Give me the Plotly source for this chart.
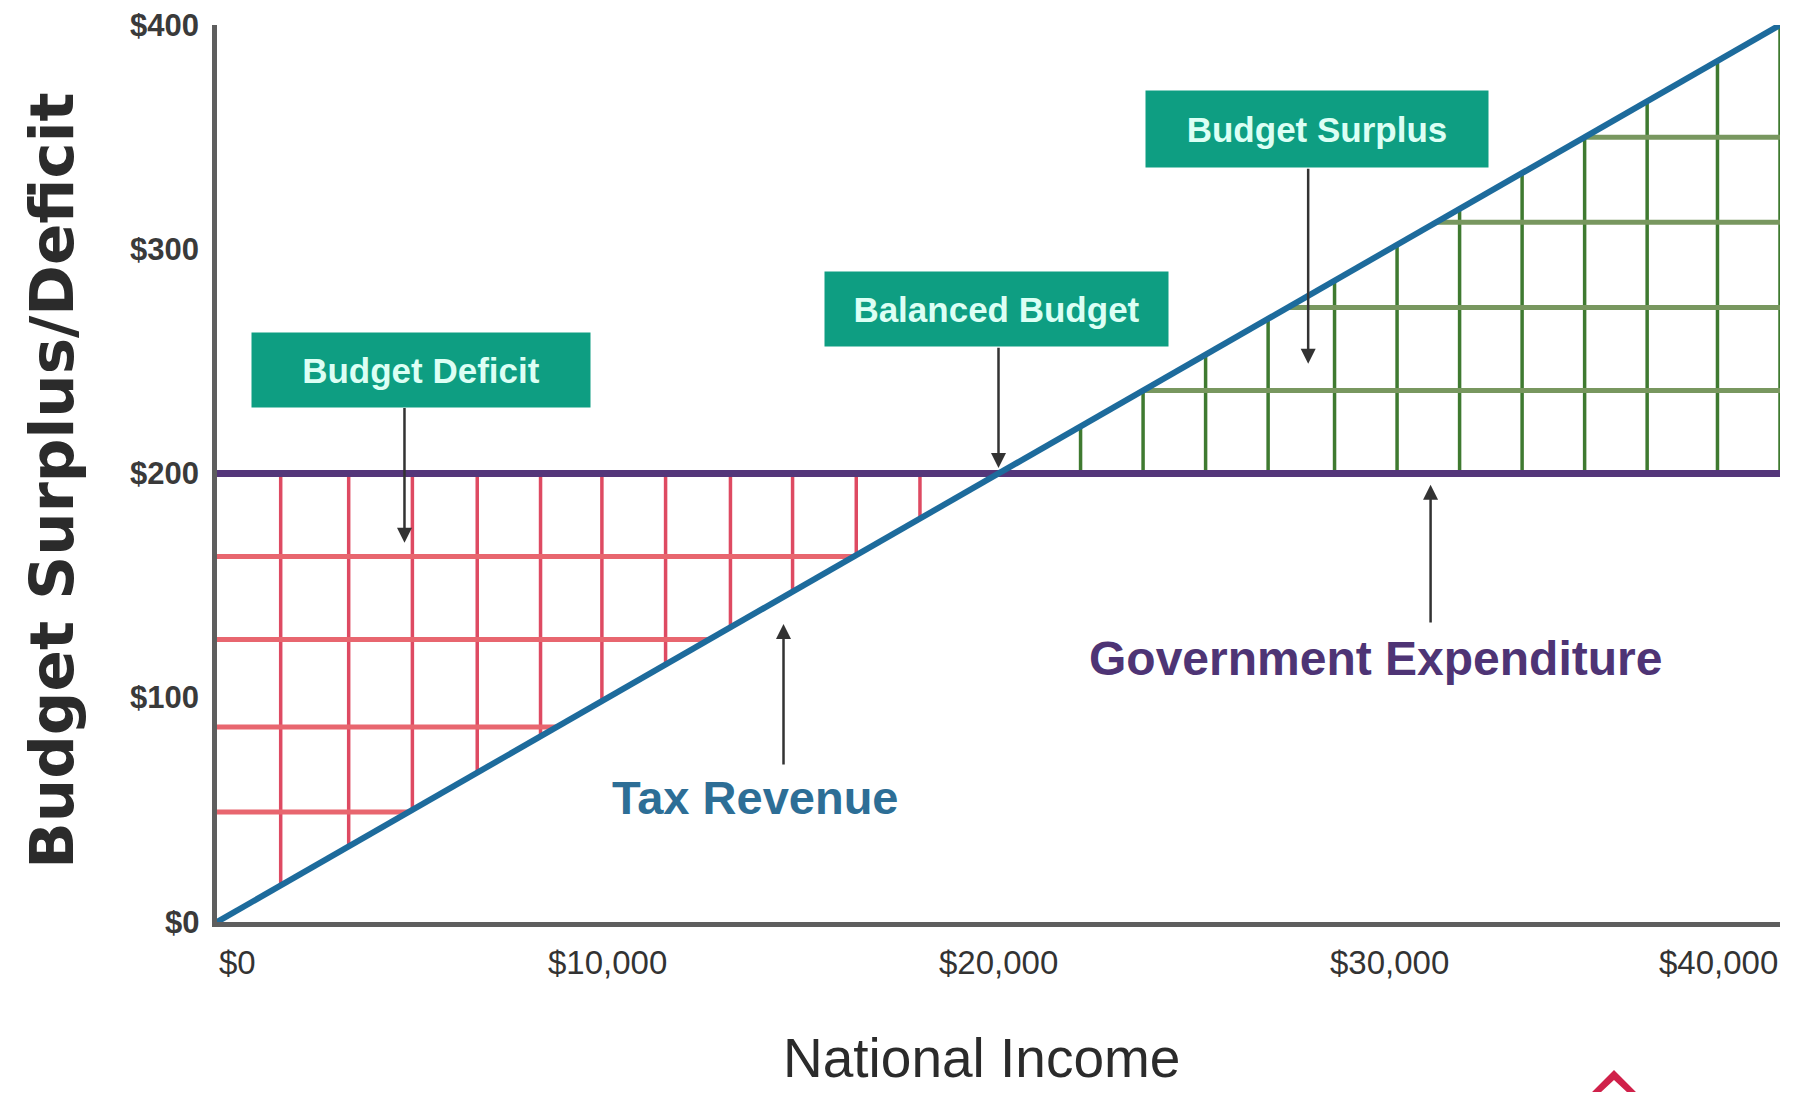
import plotly.graph_objects as go

# ---------------- data ----------------
national_income = [0, 40000]          # x endpoints of the tax revenue line
tax_revenue = [0, 400]                # tax revenue at those incomes
gov_expenditure = [200, 200]          # constant government expenditure

deficit_grid_x = [1630, 3370, 5000, 6660, 8280, 9850, 11480, 13140, 14730, 16360, 17990]
deficit_grid_y = [49, 87, 126, 163]
surplus_grid_x = [22100, 23700, 25300, 26900, 28600, 30200, 31800, 33400, 35000, 36600, 38400, 40000]
surplus_grid_y = [237, 274, 312, 350]

x_tick_vals = [0, 10000, 20000, 30000, 40000]
x_tick_text = ["$0", "$10,000", "$20,000", "$30,000", "$40,000"]
y_tick_vals = [0, 100, 200, 300, 400]
y_tick_text = ["$0", "$100", "$200", "$300", "$400"]

rate = tax_revenue[1] / national_income[1]
level = gov_expenditure[0]
x_max = national_income[1]

FONT = "Liberation Sans, Arial, sans-serif"


def segs(pairs):
    xs, ys = [], []
    for (x0, y0), (x1, y1) in pairs:
        xs += [x0, x1, None]
        ys += [y0, y1, None]
    return xs, ys


fig = go.Figure()

# deficit (red) grid
vx, vy = segs([((x, x * rate), (x, level)) for x in deficit_grid_x])
fig.add_trace(go.Scatter(x=vx, y=vy, mode="lines", line=dict(color="#de4a62", width=3.5),
                         hoverinfo="skip", cliponaxis=False))
hx, hy = segs([((0, y), (y / rate, y)) for y in deficit_grid_y])
fig.add_trace(go.Scatter(x=hx, y=hy, mode="lines", line=dict(color="#e8666f", width=5),
                         hoverinfo="skip", cliponaxis=False))

# surplus (green) grid
vx, vy = segs([((x, level), (x, x * rate)) for x in surplus_grid_x])
fig.add_trace(go.Scatter(x=vx, y=vy, mode="lines", line=dict(color="#3f7a30", width=3.5),
                         hoverinfo="skip", cliponaxis=False))
hx, hy = segs([((y / rate, y), (x_max, y)) for y in surplus_grid_y])
fig.add_trace(go.Scatter(x=hx, y=hy, mode="lines", line=dict(color="#78975f", width=5),
                         hoverinfo="skip", cliponaxis=False))

# government expenditure & tax revenue
fig.add_trace(go.Scatter(x=national_income, y=gov_expenditure, mode="lines",
                         line=dict(color="#54367a", width=7), hoverinfo="skip", cliponaxis=False))
fig.add_trace(go.Scatter(x=national_income, y=tax_revenue, mode="lines",
                         line=dict(color="#1d6b9c", width=6), hoverinfo="skip", cliponaxis=False))

annotations = []

# x tick labels
anchors = ["left", "center", "center", "center", "right"]
for v, t, a in zip(x_tick_vals, x_tick_text, anchors):
    annotations.append(dict(x=v, y=0, xref="x", yref="y", text=t, showarrow=False,
                            xanchor=a, yanchor="top", yshift=-20,
                            font=dict(family=FONT, size=33, color="#333333")))

# y tick labels
for v, t in zip(y_tick_vals, y_tick_text):
    annotations.append(dict(x=0, y=v, xref="x", yref="y", text=t, showarrow=False,
                            xanchor="right", yanchor="middle", xshift=-16,
                            font=dict(family=FONT, size=31, color="#3a3a3a", weight="bold")))

# axis titles
annotations.append(dict(x=0.4894, y=-0.1885, xref="paper", yref="paper", text="National Income",
                        showarrow=False, xanchor="center", yanchor="bottom",
                        font=dict(family=FONT, size=55, color="#2b2b2b")))
annotations.append(dict(x=-0.1056, y=0.493, xref="paper", yref="paper", text="Budget Surplus/Deficit",
                        showarrow=False, textangle=-90, xanchor="center", yanchor="middle",
                        font=dict(family="DejaVu Sans, sans-serif", size=61, color="#2b2b2b", weight="bold")))

# green label boxes
boxes = [
    ("Budget Deficit", 5221, 246.3, 338, 74),
    ("Balanced Budget", 19954, 273.2, 343, 74),
    ("Budget Surplus", 28161, 353.6, 342, 76),
]
for text, bx, by, w, h in boxes:
    annotations.append(dict(x=bx, y=by, xref="x", yref="y", text=text, showarrow=False,
                            xanchor="center", yanchor="middle", width=w, height=h,
                            bgcolor="#0e9e82", borderpad=0, align="center", valign="middle",
                            font=dict(family=FONT, size=35, color="#dcfff4", weight="bold")))

# arrows (tip x, tip y, tail x, tail y)
arrows = [
    (4798, 169.1, 4798, 229.9),
    (20000, 202.5, 20000, 256.7),
    (27925, 248.9, 27925, 336.6),
    (14498, 132.9, 14498, 69.6),
    (31058, 195.0, 31058, 132.9),
]
for tx, ty, sx, sy in arrows:
    annotations.append(dict(x=tx, y=ty, ax=sx, ay=sy, xref="x", yref="y", axref="x", ayref="y",
                            text="", showarrow=True, arrowhead=2, arrowsize=1.2, arrowwidth=2.5,
                            arrowcolor="#333333"))

# line labels
annotations.append(dict(x=29636, y=117.5, xref="x", yref="y", text="Government Expenditure",
                        showarrow=False, xanchor="center", yanchor="middle",
                        font=dict(family=FONT, size=48, color="#4e3475", weight="bold")))
annotations.append(dict(x=13758, y=55.6, xref="x", yref="y", text="Tax Revenue",
                        showarrow=False, xanchor="center", yanchor="middle",
                        font=dict(family=FONT, size=47, color="#2d6e96", weight="bold")))

# partial logo at bottom right (paper coordinates, screen pixels converted)
def px(p):
    return (p - 217) / 1563


def py(p):
    return (922 - p) / 896.6


shapes = [
    dict(type="path", xref="paper", yref="paper",
         path=f"M {px(1592)},{py(1092)} L {px(1614)},{py(1070)} L {px(1636)},{py(1092)} "
              f"L {px(1627)},{py(1092)} L {px(1614)},{py(1080)} L {px(1601)},{py(1092)} Z",
         fillcolor="#d0214a", line=dict(width=0)),
]

# the page body has an 8px margin, so the figure is offset by 8px and sized to avoid scrollbars
fig.update_layout(
    width=1796, height=1084,
    margin=dict(l=209, r=24, t=17, b=170, autoexpand=False),
    plot_bgcolor="white", paper_bgcolor="white",
    showlegend=False,
    annotations=annotations,
    shapes=shapes,
    xaxis=dict(range=[0, 40000], showline=True, linecolor="#5e5e5e", linewidth=5,
               showgrid=False, zeroline=False, tickvals=x_tick_vals, showticklabels=False,
               ticks="", automargin=False),
    yaxis=dict(range=[0, 400], showline=True, linecolor="#5e5e5e", linewidth=5,
               showgrid=False, zeroline=False, tickvals=y_tick_vals, showticklabels=False,
               ticks="", automargin=False),
)

fig.write_html("out.html")
